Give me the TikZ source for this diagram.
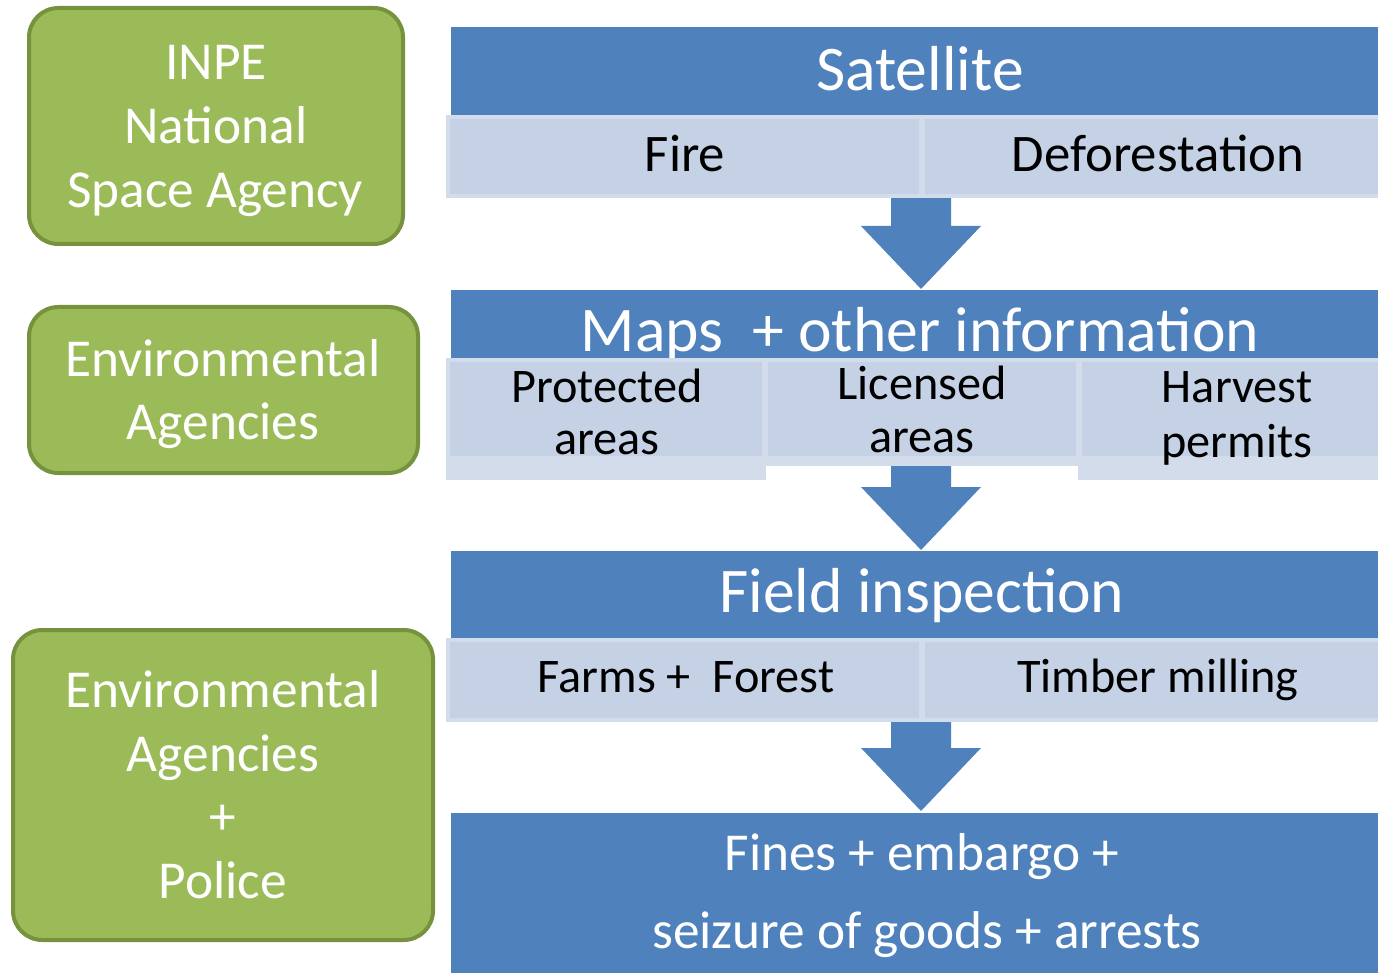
\documentclass[tikz,border=0pt]{standalone}
\usepackage{fontspec}
\setmainfont{Carlito}
\definecolor{gfill}{HTML}{9BBB59}
\definecolor{gborder}{HTML}{76923C}
\definecolor{blue1}{HTML}{4F81BD}
\definecolor{lightfill}{HTML}{C5D1E4}
\definecolor{lightedge}{HTML}{D3DCEA}
\begin{document}
\begin{tikzpicture}[x=0.75pt,y=-0.75pt,
  greenbox/.style={draw=gborder, fill=gfill, line width=3pt, rounded corners=22pt, inner sep=0pt},
  bar/.style={fill=blue1, draw=none, inner sep=0pt},
  subbox/.style={fill=lightfill, draw=lightedge, line width=3pt, inner sep=0pt},
  wtxt/.style={text=white, font=\fontsize{40}{40}\selectfont, anchor=base, inner sep=0pt},
  ttl/.style={text=white, font=\fontsize{47.7}{47.7}\selectfont, anchor=base, inner sep=0pt},
  btxt/.style={text=black, font=\fontsize{36.2}{36.2}\selectfont, anchor=base, inner sep=0pt},
  btxtl/.style={text=black, font=\fontsize{39.6}{39.6}\selectfont, anchor=base, inner sep=0pt},
  blockarrow/.style={fill=blue1, draw=none}]
\useasboundingbox (0,0) rectangle (1378,973);

% green boxes
\node[greenbox, minimum width=280.5pt, minimum height=177pt] (g1) at (216,126) {};
\node[greenbox, minimum width=291.75pt, minimum height=124.5pt] (g2) at (223.5,390) {};
\node[greenbox, minimum width=315pt, minimum height=232.5pt] (g3) at (223,785) {};

\node[wtxt] (g1a) at (216,80) {INPE};
\node[wtxt] (g1b) at (216,144) {National};
\node[wtxt] (g1c) at (215,208) {Space Agency};
\node[wtxt] (g2a) at (223,377) {Environmental};
\node[wtxt] (g2b) at (223,440) {Agencies};
\node[wtxt] (g3a) at (223,707) {Environmental};
\node[wtxt] (g3b) at (223,771) {Agencies};
\node[wtxt] (g3c) at (223,834) {+};
\node[wtxt] (g3d) at (223,898) {Police};

% blue bars
\node[bar, minimum width=703.5pt, minimum height=66pt] (sat) at (920,71) {};
\node[bar, minimum width=703.5pt, minimum height=52.5pt] (maps) at (920,325) {};
\node[bar, minimum width=703.5pt, minimum height=66pt] (field) at (920,595) {};
\node[bar, minimum width=703.5pt, minimum height=125.25pt] (fines) at (920,896.5) {};

\node[ttl] (satT) at (920,91) {Satellite};
\node[ttl, text depth=0pt] (mapsT) at (920,352) {Maps\ \ + other information};
\node[ttl] (fieldT) at (922,612) {Field inspection};
\node[wtxt] (finesA) at (922,870) {Fines + embargo +};
\node[wtxt] (finesB) at (927,948) {seizure of goods + arrests};

% block arrows
\fill[blockarrow] (891,198) -- (951,198) -- (951,226) -- (981,226) -- (921,289) -- (861,226) -- (891,226) -- cycle;
\fill[blockarrow] (891,462) -- (951,462) -- (951,487) -- (981,487) -- (921,550) -- (861,487) -- (891,487) -- cycle;
\fill[blockarrow] (891,722) -- (951,722) -- (951,748) -- (981,748) -- (921,811) -- (861,748) -- (891,748) -- cycle;

% light sub boxes
\node[subbox, minimum width=354.75pt, minimum height=59.25pt] (fire) at (684.5,156.5) {};
\node[subbox, minimum width=353.25pt, minimum height=59.25pt] (defo) at (1158.5,156.5) {};
\node[subbox, minimum width=237pt, minimum height=88.5pt] (prot) at (606,419) {};
\node[subbox, minimum width=234pt, minimum height=78pt] (lic) at (922,412) {};
\node[subbox, minimum width=235.5pt, minimum height=88.5pt] (harv) at (1237,419) {};
\node[subbox, minimum width=354.75pt, minimum height=60pt] (farms) at (684.5,680) {};
\node[subbox, minimum width=353.25pt, minimum height=60pt] (timber) at (1158.5,680) {};

\fill[lightedge] (450,456) rectangle (762,476);
\fill[lightedge] (768,456) rectangle (1076,462);
\fill[lightedge] (1082,456) rectangle (1392,476);

\node[btxtl] (fireT) at (685,172) {Fire};
\node[btxtl] (defoT) at (1158,172) {Deforestation};
\node[btxt] (protA) at (607,403) {Protected};
\node[btxt] (protB) at (607,455) {areas};
\node[btxt] (licA) at (922,400) {Licensed};
\node[btxt] (licB) at (922,453) {areas};
\node[btxt] (harvA) at (1237,403) {Harvest};
\node[btxt] (harvB) at (1237,457) {permits};
\node[btxt] (farmsT) at (686,692) {Farms +\ \ Forest};
\node[btxt] (timberT) at (1158,692) {Timber milling};
\end{tikzpicture}
\end{document}
